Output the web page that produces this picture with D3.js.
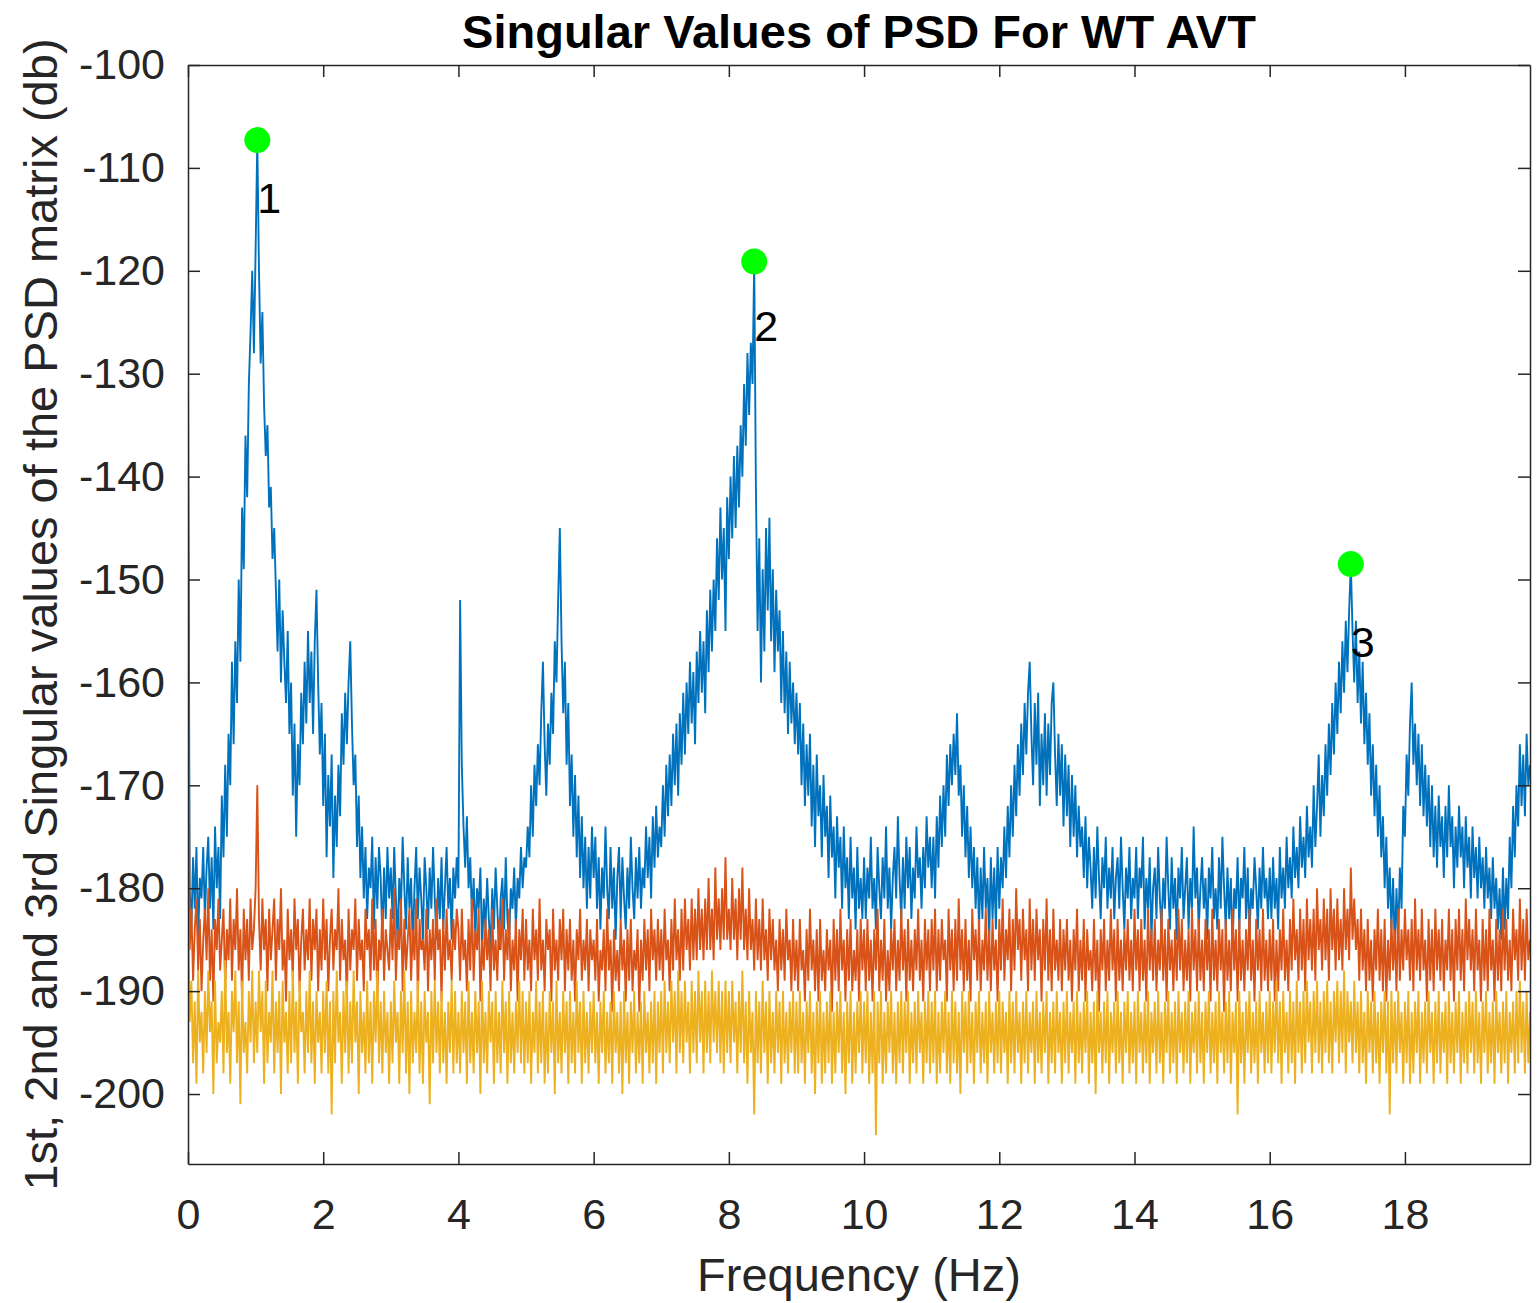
<!DOCTYPE html>
<html>
<head>
<meta charset="utf-8">
<script src="https://cdn.jsdelivr.net/npm/d3@7"></script>
<style>
  html, body { margin: 0; padding: 0; background: #ffffff; }
  svg { display: block; }
</style>
</head>
<body>
<svg id="chart" width="1540" height="1303"></svg>
<script>
// ---------------- DATA ----------------
const chartTitle = "Singular Values of PSD For WT AVT";
const xLabel = "Frequency (Hz)";
const yLabel = "1st, 2nd and 3rd Singular values of the PSD matrix (db)";

const freqStep = 0.025; // Hz between samples, first sample at 0 Hz
const xTicks = [0, 2, 4, 6, 8, 10, 12, 14, 16, 18];
const yTicks = [-200, -190, -180, -170, -160, -150, -140, -130, -120, -110, -100];
const xDomain = [0, 19.85];
const yDomain = [-206.8, -100];

// 1st singular value (dB), one row = 1 Hz
const sv1 = [
  // 0 Hz
  -129,-180,-184,-177,-182,-176,-185,-179,-181,-176,
  -183,-178,-175,-182,-177,-184,-174,-180,-176,-183,
  -171,-177,-168,-175,-165,-170,-158,-166,-156,-162,
  -150,-158,-143,-149,-136,-142,-131,-126,-120,-128,
  // 1 Hz
  -118,-107.3,-120,-129,-124,-133,-138,-135,-143,-141,
  -148,-145,-151,-157,-150,-160,-153,-158,-162,-155,
  -165,-160,-171,-164,-175,-166,-170,-161,-166,-158,
  -164,-155,-162,-157,-165,-156,-151,-160,-167,-162,
  // 2 Hz
  -172,-165,-177,-169,-174,-167,-179,-171,-176,-168,
  -173,-163,-168,-161,-166,-160,-156,-164,-170,-167,
  -176,-171,-179,-174,-181,-176,-183,-178,-180,-175,
  -184,-177,-182,-176,-179,-185,-178,-183,-176,-181,
  // 3 Hz
  -178,-183,-176,-181,-185,-179,-182,-175,-180,-184,
  -177,-182,-179,-186,-180,-176,-183,-178,-181,-185,
  -177,-180,-184,-178,-182,-176,-181,-185,-179,-183,
  -177,-184,-180,-176,-182,-179,-185,-178,-181,-177,
  // 4 Hz
  -180,-152,-168,-174,-178,-173,-180,-177,-183,-179,
  -185,-180,-182,-178,-186,-181,-184,-179,-183,-186,
  -180,-184,-178,-182,-186,-181,-179,-184,-177,-183,
  -185,-180,-182,-178,-184,-179,-181,-176,-180,-177,
  // 5 Hz
  -178,-174,-177,-170,-175,-168,-172,-166,-170,-163,
  -158,-166,-171,-164,-168,-161,-165,-156,-160,-152,
  -145,-156,-163,-158,-168,-162,-172,-167,-175,-169,
  -177,-171,-179,-173,-180,-175,-182,-176,-181,-174,
  // 6 Hz
  -179,-175,-182,-177,-184,-178,-181,-174,-180,-183,
  -176,-182,-178,-185,-179,-176,-183,-177,-181,-184,
  -178,-182,-175,-180,-183,-177,-181,-176,-182,-178,
  -180,-174,-179,-175,-181,-173,-178,-172,-177,-174,
  // 7 Hz
  -176,-170,-175,-168,-173,-167,-172,-165,-170,-164,
  -171,-163,-168,-161,-167,-160,-165,-158,-164,-159,
  -166,-157,-162,-155,-161,-156,-163,-153,-159,-151,
  -157,-150,-155,-146,-152,-143,-150,-145,-155,-142,
  // 8 Hz
  -148,-140,-146,-138,-145,-137,-143,-135,-140,-131,
  -137,-128,-134,-127,-131,-119.1,-141,-155,-146,-160,
  -149,-157,-145,-153,-144,-156,-149,-159,-151,-157,
  -153,-162,-155,-163,-157,-165,-158,-164,-160,-166,
  // 9 Hz
  -161,-167,-162,-170,-164,-172,-166,-171,-165,-174,
  -168,-176,-167,-173,-170,-177,-169,-175,-172,-179,
  -171,-177,-174,-181,-173,-178,-175,-182,-174,-180,
  -177,-183,-175,-181,-178,-184,-176,-182,-179,-183,
  // 10 Hz
  -177,-183,-178,-181,-175,-182,-179,-184,-176,-180,
  -183,-177,-181,-174,-182,-178,-184,-179,-176,-181,
  -173,-179,-183,-177,-182,-175,-180,-176,-183,-178,
  -181,-174,-179,-177,-182,-176,-180,-173,-178,-175,
  // 11 Hz
  -180,-175,-181,-173,-178,-171,-176,-170,-175,-167,
  -172,-166,-170,-165,-169,-163,-171,-168,-175,-170,
  -177,-172,-179,-174,-180,-176,-182,-177,-184,-178,
  -183,-176,-182,-179,-185,-177,-183,-178,-184,-176,
  // 12 Hz
  -182,-177,-180,-174,-179,-172,-177,-170,-175,-168,
  -173,-166,-171,-164,-169,-162,-167,-161,-158,-165,
  -170,-162,-168,-161,-172,-165,-170,-163,-171,-164,
  -169,-162,-160,-167,-172,-165,-171,-166,-174,-167,
  // 13 Hz
  -173,-168,-176,-169,-175,-170,-177,-172,-176,-174,
  -179,-173,-180,-175,-178,-182,-176,-181,-174,-179,
  -183,-177,-180,-175,-182,-178,-181,-176,-183,-179,
  -177,-182,-175,-180,-184,-178,-181,-176,-183,-179,
  // 14 Hz
  -181,-176,-183,-178,-180,-175,-184,-179,-182,-177,
  -185,-180,-178,-183,-176,-181,-184,-179,-182,-175,
  -180,-184,-177,-182,-179,-185,-178,-181,-176,-183,
  -180,-177,-184,-179,-182,-174,-181,-178,-184,-180,
  // 15 Hz
  -177,-182,-179,-185,-178,-181,-176,-183,-180,-184,
  -177,-182,-175,-180,-184,-178,-183,-179,-186,-180,
  -182,-177,-184,-179,-181,-176,-183,-178,-185,-180,
  -182,-177,-180,-184,-178,-182,-176,-181,-179,-183,
  // 16 Hz
  -178,-183,-177,-182,-179,-184,-176,-181,-178,-182,
  -175,-180,-177,-181,-174,-179,-176,-180,-173,-178,
  -175,-179,-172,-177,-174,-178,-170,-176,-172,-167,
  -175,-169,-173,-166,-171,-164,-169,-162,-167,-160,
  // 17 Hz
  -165,-158,-163,-156,-161,-154,-159,-153,-148.5,-155,
  -160,-154,-162,-157,-164,-158,-166,-161,-168,-163,
  -171,-166,-173,-168,-175,-170,-177,-173,-180,-175,
  -182,-178,-184,-179,-186,-180,-185,-178,-182,-172,
  // 18 Hz
  -175,-167,-171,-164,-160,-168,-164,-170,-165,-172,
  -166,-173,-168,-174,-169,-176,-170,-177,-172,-178,
  -171,-176,-173,-179,-172,-177,-170,-176,-173,-180,
  -174,-178,-172,-177,-174,-180,-173,-178,-175,-181,
  // 19 Hz
  -174,-179,-176,-181,-175,-180,-177,-182,-176,-181,
  -178,-183,-177,-182,-179,-184,-180,-185,-178,-184,
  -179,-183,-175,-180,-172,-177,-170,-174,-166,-172,
  -167,-173,-165,-170,-168
];

// 2nd singular value (dB)
const sv2 = [
  // 0 Hz
  -144,-186,-182,-189,-184,-181,-188,-183,-190,-185,
  -182,-187,-180,-189,-184,-191,-183,-186,-181,-188,
  -185,-182,-190,-184,-187,-181,-189,-183,-186,-180,
  -188,-184,-191,-182,-187,-183,-189,-181,-186,-184,
  // 1 Hz
  -180,-170,-183,-188,-181,-186,-183,-190,-182,-187,
  -184,-181,-189,-183,-186,-180,-188,-185,-191,-182,
  -187,-184,-189,-181,-186,-183,-190,-185,-182,-188,
  -184,-187,-181,-189,-183,-186,-182,-190,-184,-188,
  // 2 Hz
  -181,-187,-183,-190,-185,-182,-188,-184,-186,-180,
  -189,-183,-187,-185,-191,-182,-188,-184,-186,-181,
  -189,-183,-187,-185,-190,-182,-186,-184,-189,-181,
  -188,-183,-191,-185,-187,-182,-189,-184,-186,-188,
  // 3 Hz
  -182,-187,-180,-189,-184,-186,-181,-190,-183,-188,
  -185,-182,-189,-184,-187,-181,-191,-183,-186,-185,
  -188,-182,-190,-184,-187,-183,-189,-181,-186,-184,
  -191,-183,-188,-182,-187,-185,-189,-183,-186,-182,
  // 4 Hz
  -184,-189,-182,-187,-185,-190,-183,-188,-181,-189,
  -184,-186,-182,-191,-185,-188,-183,-187,-184,-190,
  -182,-188,-185,-189,-183,-186,-181,-189,-184,-187,
  -182,-190,-185,-188,-183,-191,-184,-187,-182,-189,
  // 5 Hz
  -183,-188,-185,-190,-182,-187,-184,-189,-181,-188,
  -185,-190,-183,-186,-184,-191,-182,-188,-185,-189,
  -183,-187,-182,-190,-184,-188,-183,-189,-185,-191,
  -184,-187,-182,-189,-185,-188,-183,-190,-184,-187,
  // 6 Hz
  -185,-189,-183,-191,-186,-188,-184,-190,-182,-188,
  -185,-192,-184,-189,-186,-190,-183,-188,-185,-191,
  -184,-189,-183,-190,-186,-188,-184,-192,-185,-189,
  -183,-188,-184,-190,-182,-187,-184,-189,-183,-188,
  // 7 Hz
  -184,-189,-182,-187,-185,-190,-183,-188,-181,-187,
  -184,-189,-182,-188,-181,-186,-183,-188,-181,-187,
  -182,-187,-180,-186,-182,-187,-181,-186,-179,-186,
  -182,-187,-178,-185,-181,-186,-180,-185,-177,-185,
  // 8 Hz
  -182,-186,-179,-185,-181,-187,-180,-185,-178,-186,
  -182,-187,-180,-186,-183,-188,-181,-187,-183,-188,
  -181,-187,-184,-189,-182,-187,-183,-188,-185,-190,
  -183,-188,-184,-189,-182,-187,-185,-190,-183,-189,
  // 9 Hz
  -185,-190,-183,-188,-186,-191,-184,-189,-182,-188,
  -185,-190,-184,-191,-183,-189,-186,-190,-184,-188,
  -185,-192,-183,-189,-184,-190,-182,-188,-185,-191,
  -184,-189,-183,-190,-186,-189,-184,-191,-183,-188,
  // 10 Hz
  -184,-190,-183,-189,-185,-191,-184,-188,-182,-190,
  -185,-189,-183,-191,-186,-190,-184,-188,-183,-190,
  -185,-189,-182,-188,-184,-191,-183,-189,-185,-190,
  -184,-188,-182,-189,-185,-191,-183,-188,-184,-190,
  // 11 Hz
  -183,-188,-182,-190,-184,-189,-183,-187,-185,-191,
  -182,-188,-184,-190,-183,-189,-181,-188,-184,-190,
  -183,-189,-185,-191,-182,-187,-184,-189,-183,-190,
  -185,-188,-182,-189,-184,-190,-183,-188,-185,-191,
  // 12 Hz
  -183,-188,-181,-189,-184,-187,-182,-190,-183,-188,
  -180,-186,-183,-189,-182,-187,-184,-190,-181,-188,
  -183,-189,-182,-187,-184,-191,-183,-188,-181,-189,
  -184,-190,-182,-188,-185,-189,-183,-190,-184,-188,
  // 13 Hz
  -183,-189,-185,-191,-184,-188,-182,-190,-185,-189,
  -183,-191,-184,-188,-186,-190,-183,-189,-185,-192,
  -184,-188,-183,-190,-185,-189,-182,-188,-184,-191,
  -183,-189,-185,-190,-184,-188,-183,-189,-185,-190,
  // 14 Hz
  -182,-188,-184,-190,-183,-189,-185,-191,-182,-188,
  -184,-189,-183,-190,-185,-188,-182,-189,-184,-191,
  -183,-188,-185,-190,-184,-189,-182,-188,-183,-190,
  -185,-189,-184,-191,-182,-188,-184,-190,-183,-189,
  // 15 Hz
  -185,-190,-183,-188,-184,-191,-182,-189,-185,-190,
  -183,-188,-184,-192,-183,-189,-185,-190,-182,-188,
  -184,-191,-183,-189,-185,-190,-184,-188,-182,-189,
  -185,-191,-183,-188,-184,-190,-182,-189,-185,-190,
  // 16 Hz
  -184,-189,-183,-191,-185,-190,-184,-188,-182,-189,
  -185,-190,-183,-188,-181,-187,-184,-189,-182,-188,
  -183,-190,-181,-187,-183,-188,-182,-189,-180,-186,
  -183,-188,-181,-187,-182,-189,-180,-186,-182,-188,
  // 17 Hz
  -181,-187,-183,-188,-180,-186,-182,-187,-178,-185,
  -181,-186,-183,-189,-182,-188,-184,-190,-183,-189,
  -185,-191,-184,-188,-182,-189,-184,-190,-183,-191,
  -185,-189,-183,-188,-184,-190,-182,-189,-184,-188,
  // 18 Hz
  -182,-187,-184,-189,-183,-190,-181,-188,-184,-189,
  -182,-188,-185,-191,-183,-189,-184,-190,-182,-188,
  -184,-189,-183,-190,-185,-188,-182,-189,-184,-191,
  -183,-188,-182,-189,-184,-190,-181,-187,-183,-188,
  // 19 Hz
  -184,-190,-182,-188,-185,-191,-183,-189,-184,-190,
  -182,-188,-185,-191,-183,-189,-184,-190,-182,-188,
  -183,-189,-185,-190,-182,-187,-184,-189,-181,-188,
  -183,-189,-182,-187,-185
];

// 3rd singular value (dB)
const sv3 = [
  // 0 Hz
  -180,-193,-189,-197,-191,-199,-188,-195,-192,-198,
  -190,-196,-188,-194,-191,-200,-189,-197,-193,-195,
  -190,-198,-187,-196,-192,-199,-190,-194,-188,-197,
  -191,-201,-189,-196,-193,-198,-190,-195,-188,-197,
  // 1 Hz
  -191,-196,-188,-194,-190,-199,-189,-197,-192,-195,
  -188,-198,-191,-196,-190,-200,-189,-195,-192,-198,
  -190,-197,-188,-196,-191,-199,-189,-194,-192,-198,
  -190,-196,-188,-197,-191,-199,-190,-195,-192,-198,
  // 2 Hz
  -190,-196,-189,-198,-191,-202,-190,-197,-188,-195,
  -192,-199,-190,-196,-189,-198,-191,-197,-188,-195,
  -191,-200,-190,-196,-192,-198,-189,-197,-191,-199,
  -190,-195,-188,-197,-191,-198,-190,-196,-192,-199,
  // 3 Hz
  -191,-197,-189,-195,-192,-199,-190,-196,-188,-198,
  -191,-200,-190,-197,-192,-196,-189,-198,-191,-199,
  -190,-195,-192,-201,-190,-197,-189,-196,-191,-198,
  -190,-197,-192,-199,-191,-196,-189,-198,-190,-197,
  // 4 Hz
  -192,-198,-190,-196,-191,-199,-189,-197,-192,-198,
  -190,-196,-191,-200,-189,-197,-192,-198,-190,-195,
  -191,-199,-190,-197,-192,-198,-189,-196,-191,-199,
  -190,-197,-192,-198,-191,-196,-189,-197,-190,-198,
  // 5 Hz
  -191,-197,-190,-199,-192,-196,-189,-198,-191,-197,
  -190,-199,-192,-198,-190,-196,-191,-200,-189,-197,
  -192,-198,-190,-196,-191,-199,-190,-197,-192,-198,
  -189,-196,-191,-199,-190,-197,-192,-198,-191,-196,
  // 6 Hz
  -190,-197,-192,-199,-191,-196,-190,-198,-192,-197,
  -191,-199,-190,-196,-192,-198,-191,-200,-190,-197,
  -192,-199,-191,-196,-190,-198,-192,-197,-191,-199,
  -190,-196,-192,-198,-191,-197,-190,-199,-191,-196,
  // 7 Hz
  -190,-198,-189,-196,-191,-197,-189,-195,-190,-198,
  -188,-196,-190,-197,-189,-195,-191,-198,-189,-196,
  -190,-197,-188,-195,-190,-198,-189,-196,-190,-197,
  -188,-195,-190,-196,-189,-197,-190,-198,-189,-196,
  // 8 Hz
  -190,-197,-189,-195,-191,-198,-190,-196,-188,-197,
  -191,-199,-190,-196,-192,-202,-190,-197,-191,-198,
  -189,-196,-191,-199,-190,-197,-192,-198,-190,-196,
  -191,-199,-190,-197,-192,-198,-191,-196,-190,-198,
  // 9 Hz
  -191,-198,-190,-197,-192,-199,-191,-196,-190,-198,
  -192,-200,-191,-197,-190,-199,-192,-198,-191,-197,
  -190,-199,-192,-198,-191,-196,-190,-198,-192,-200,
  -191,-197,-190,-199,-192,-198,-191,-196,-190,-198,
  // 10 Hz
  -191,-197,-190,-199,-192,-198,-190,-204,-191,-197,
  -190,-199,-192,-198,-191,-196,-190,-198,-192,-199,
  -191,-197,-190,-198,-191,-196,-190,-199,-192,-197,
  -191,-198,-190,-196,-192,-199,-191,-197,-190,-198,
  // 11 Hz
  -191,-197,-190,-199,-192,-198,-191,-196,-190,-198,
  -192,-199,-190,-197,-191,-198,-192,-200,-190,-196,
  -191,-198,-190,-197,-192,-199,-191,-196,-190,-198,
  -192,-197,-191,-199,-190,-196,-192,-198,-191,-197,
  // 12 Hz
  -190,-198,-191,-196,-192,-199,-190,-197,-191,-198,
  -190,-196,-192,-199,-191,-197,-190,-198,-192,-196,
  -191,-199,-190,-197,-192,-198,-191,-196,-190,-199,
  -192,-197,-191,-198,-190,-196,-192,-199,-191,-197,
  // 13 Hz
  -190,-198,-192,-196,-191,-199,-190,-197,-192,-198,
  -191,-196,-190,-199,-192,-197,-191,-200,-190,-196,
  -192,-198,-191,-197,-190,-199,-192,-196,-191,-198,
  -190,-197,-192,-199,-191,-196,-190,-198,-192,-197,
  // 14 Hz
  -191,-199,-190,-196,-192,-198,-191,-197,-190,-199,
  -192,-196,-191,-198,-190,-197,-192,-199,-191,-196,
  -190,-198,-192,-197,-191,-199,-190,-196,-192,-198,
  -191,-197,-190,-199,-192,-196,-191,-198,-190,-197,
  // 15 Hz
  -192,-199,-191,-196,-190,-198,-192,-197,-191,-199,
  -190,-196,-192,-198,-191,-197,-190,-199,-192,-196,
  -191,-202,-190,-197,-192,-199,-191,-196,-190,-198,
  -192,-197,-191,-199,-190,-196,-192,-198,-191,-197,
  // 16 Hz
  -190,-198,-191,-196,-189,-197,-191,-199,-190,-196,
  -192,-198,-190,-197,-191,-199,-189,-196,-191,-198,
  -190,-197,-189,-195,-191,-198,-190,-196,-189,-197,
  -191,-198,-190,-196,-189,-197,-191,-198,-190,-195,
  // 17 Hz
  -189,-197,-190,-196,-188,-198,-190,-195,-191,-197,
  -189,-196,-191,-198,-190,-197,-192,-199,-190,-196,
  -191,-198,-190,-197,-192,-199,-191,-196,-190,-198,
  -191,-202,-190,-197,-191,-198,-190,-196,-192,-199,
  // 18 Hz
  -191,-197,-190,-199,-192,-198,-191,-196,-190,-199,
  -192,-197,-191,-198,-190,-196,-192,-199,-191,-197,
  -190,-198,-192,-196,-191,-199,-190,-197,-192,-198,
  -191,-196,-190,-199,-192,-197,-191,-198,-190,-196,
  // 19 Hz
  -191,-198,-190,-197,-192,-199,-191,-196,-190,-198,
  -192,-197,-191,-199,-190,-196,-192,-198,-191,-197,
  -190,-199,-192,-196,-191,-198,-190,-197,-189,-196,
  -191,-198,-190,-197,-192
];

// picked peaks
const peakFreq = [1.025, 8.375, 17.2];
const peakDb = [-107.3, -119.1, -148.5];
const peakLabels = ["1", "2", "3"];
const peakLabelDb = [-112.9, -125.4, -156.1];

const seriesColors = ["#0072BD", "#D95319", "#EDB120"];

// ---------------- LAYOUT ----------------
const plot = { left: 188, right: 1530, top: 65, bottom: 1164 };
const FONT = "'Liberation Sans', Arial, Helvetica, sans-serif";
const AXIS_COLOR = "#262626";

const svg = d3.select("#chart");

const x = d3.scaleLinear().domain(xDomain).range([plot.left, plot.right]);
const y = d3.scaleLinear().domain(yDomain).range([plot.bottom, plot.top]);

svg.append("defs").append("clipPath").attr("id", "plotclip")
  .append("rect")
  .attr("x", plot.left).attr("y", plot.top)
  .attr("width", plot.right - plot.left).attr("height", plot.bottom - plot.top);

const line = d3.line()
  .x((d, i) => x(i * freqStep))
  .y(d => y(d));

const lines = svg.append("g").attr("clip-path", "url(#plotclip)");
[sv1, sv2, sv3].forEach((s, k) => {
  lines.append("path")
    .datum(s)
    .attr("fill", "none")
    .attr("stroke", seriesColors[k])
    .attr("stroke-width", 1.9)
    .attr("stroke-linejoin", "miter")
    .attr("d", line);
});

// axes
function styleAxis(g) {
  g.attr("font-family", FONT).attr("font-size", 43);
  g.selectAll("path").attr("stroke", AXIS_COLOR).attr("stroke-width", 1.5);
  g.selectAll("line").attr("stroke", AXIS_COLOR).attr("stroke-width", 1.5);
  g.selectAll("text").attr("fill", AXIS_COLOR);
}
const plainFmt = d => String(d);

svg.append("g")
  .attr("transform", `translate(0,${plot.bottom})`)
  .call(d3.axisBottom(x).tickValues(xTicks).tickSizeInner(-12).tickSizeOuter(0).tickPadding(34).tickFormat(plainFmt))
  .call(styleAxis);

svg.append("g")
  .attr("transform", `translate(0,${plot.top})`)
  .call(d3.axisTop(x).tickValues(xTicks).tickSizeInner(-12).tickSizeOuter(0).tickFormat(""))
  .call(styleAxis);

svg.append("g")
  .attr("transform", `translate(${plot.left},0)`)
  .call(d3.axisLeft(y).tickValues(yTicks).tickSizeInner(-12).tickSizeOuter(0).tickPadding(23).tickFormat(plainFmt))
  .call(styleAxis);

svg.append("g")
  .attr("transform", `translate(${plot.right},0)`)
  .call(d3.axisRight(y).tickValues(yTicks).tickSizeInner(-12).tickSizeOuter(0).tickFormat(""))
  .call(styleAxis);

// peaks
svg.append("g").selectAll("circle")
  .data(peakFreq)
  .join("circle")
  .attr("cx", d => x(d))
  .attr("cy", (d, i) => y(peakDb[i]))
  .attr("r", 13)
  .attr("fill", "#00FF00");

svg.append("g").selectAll("text")
  .data(peakLabels)
  .join("text")
  .attr("x", (d, i) => x(peakFreq[i]))
  .attr("y", (d, i) => y(peakLabelDb[i]))
  .attr("dy", "0.35em")
  .attr("font-family", FONT)
  .attr("font-size", 43)
  .attr("fill", "#000")
  .text(d => d);

// titles
svg.append("text")
  .attr("x", (plot.left + plot.right) / 2)
  .attr("y", 48)
  .attr("text-anchor", "middle")
  .attr("font-family", FONT)
  .attr("font-weight", "bold")
  .attr("font-size", 47)
  .attr("fill", "#000")
  .text(chartTitle);

svg.append("text")
  .attr("x", (plot.left + plot.right) / 2)
  .attr("y", 1291)
  .attr("text-anchor", "middle")
  .attr("font-family", FONT)
  .attr("font-size", 47)
  .attr("fill", AXIS_COLOR)
  .text(xLabel);

svg.append("text")
  .attr("transform", `translate(57,${(plot.top + plot.bottom) / 2}) rotate(-90)`)
  .attr("text-anchor", "middle")
  .attr("font-family", FONT)
  .attr("font-size", 47)
  .attr("fill", AXIS_COLOR)
  .text(yLabel);
</script>
</body>
</html>
